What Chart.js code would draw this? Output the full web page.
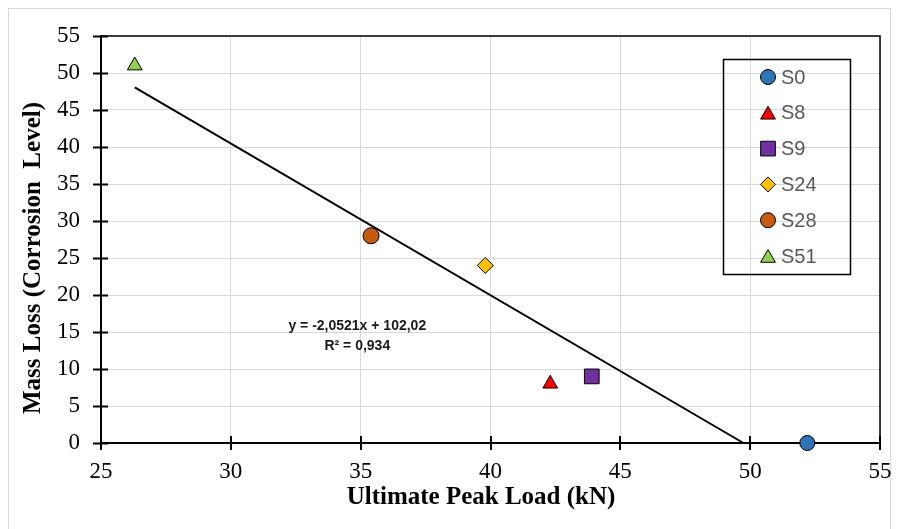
<!DOCTYPE html>
<html lang="en">
<head>
  <meta charset="UTF-8">
  <title>Mass Loss vs Ultimate Peak Load</title>
  <script src="https://cdn.jsdelivr.net/npm/chart.js"></script>
  <style>
    body { margin: 0; background: #ffffff; }
    canvas { display: block; }
  </style>
</head>
<body>
  <canvas id="massLossChart" width="900" height="529"></canvas>

  <script>
    // Specimens
    const specimenNames = ['S0', 'S8', 'S9', 'S24', 'S28', 'S51'];
    const peakLoad = [52.2, 42.3, 43.9, 39.8, 35.4, 26.3];   // kN
    const massLoss = [0, 8, 9, 24, 28, 51];                 // %

    // marker look per specimen
    const markerColors = ['#2E75B6', '#FF0000', '#7030A0', '#FFC000', '#C55A11', '#92D050'];
    const markerShapes = ['circle', 'triangle', 'rect', 'rectRot', 'circle', 'triangle'];
    const markerRadius = [7.5, 8.5, 10.4, 8, 8, 8.5];

    // linear trend line end points (as drawn)
    const trendX = [26.3, 49.74];
    const trendY = [48.05, 0];
    const trendLabel = ['y = -2,0521x + 102,02', 'R\u00B2 = 0,934'];

    const xTicks = [25, 30, 35, 40, 45, 50, 55];
    const yTicks = [0, 5, 10, 15, 20, 25, 30, 35, 40, 45, 50, 55];
    const xTitle = 'Ultimate Peak Load (kN)';
    const yTitle = 'Mass Loss (Corrosion  Level)';

    const serif = "'Liberation Serif', 'Times New Roman', serif";

    const datasets = specimenNames.map((name, i) => ({
      label: name,
      data: [{ x: peakLoad[i], y: massLoss[i] }],
      pointStyle: markerShapes[i],
      pointRadius: markerRadius[i],
      pointBackgroundColor: markerColors[i],
      pointBorderColor: '#000000',
      pointBorderWidth: 1,
      clip: false
    }));

    datasets.unshift({
      label: 'Linear',
      data: trendX.map((x, i) => ({ x: x, y: trendY[i] })),
      showLine: true,
      borderColor: '#000000',
      borderWidth: 2,
      pointRadius: 0,
      clip: false
    });

    // white page + thin grey frame round the whole figure
    const framePlugin = {
      id: 'frame',
      beforeDraw(chart) {
        const ctx = chart.ctx;
        ctx.save();
        ctx.fillStyle = '#ffffff';
        ctx.fillRect(0, 0, chart.width, chart.height);
        ctx.strokeStyle = '#d9d9d9';
        ctx.lineWidth = 1;
        ctx.strokeRect(8.5, 8.5, 882, 540);
        ctx.restore();
      }
    };

    // black top/right border and tick marks crossing the axes (Excel style)
    const axesPlugin = {
      id: 'excelAxes',
      beforeDatasetsDraw(chart) {
        const { ctx, chartArea: a, scales: { x, y } } = chart;
        ctx.save();
        ctx.strokeStyle = '#000000';
        ctx.lineWidth = 1.5;
        ctx.beginPath();
        ctx.moveTo(a.left, a.top);
        ctx.lineTo(a.right, a.top);
        ctx.lineTo(a.right, a.bottom);
        ctx.stroke();

        ctx.lineWidth = 2;
        ctx.beginPath();
        yTicks.forEach(v => {
          const py = Math.round(y.getPixelForValue(v)) + 0.5;
          ctx.moveTo(a.left - 8, py);
          ctx.lineTo(a.left + 7, py);
        });
        xTicks.forEach(v => {
          const px = Math.round(x.getPixelForValue(v));
          ctx.moveTo(px, a.bottom - 7);
          ctx.lineTo(px, a.bottom + 7);
        });
        ctx.stroke();

        // axis titles (Excel places them a little off the axis centre)
        ctx.fillStyle = '#000000';
        ctx.font = 'bold 25px ' + serif;
        ctx.textAlign = 'center';
        ctx.textBaseline = 'middle';
        ctx.fillText(xTitle, 481, 498);
        ctx.translate(34, 258);
        ctx.rotate(-Math.PI / 2);
        ctx.fillText(yTitle, 0, 0);
        ctx.restore();
      }
    };

    function drawMarker(ctx, shape, r, cx, cy) {
      ctx.beginPath();
      if (shape === 'circle') {
        ctx.arc(cx, cy, r, 0, Math.PI * 2);
      } else if (shape === 'triangle') {
        ctx.moveTo(cx, cy - r);
        ctx.lineTo(cx + r * 0.866, cy + r * 0.5);
        ctx.lineTo(cx - r * 0.866, cy + r * 0.5);
        ctx.closePath();
      } else if (shape === 'rect') {
        const s = r * Math.SQRT1_2;
        ctx.rect(cx - s, cy - s, s * 2, s * 2);
      } else {
        ctx.moveTo(cx - r, cy);
        ctx.lineTo(cx, cy - r);
        ctx.lineTo(cx + r, cy);
        ctx.lineTo(cx, cy + r);
        ctx.closePath();
      }
      ctx.fill();
      ctx.stroke();
    }

    // legend box inside the plot + trend line equation
    const overlayPlugin = {
      id: 'overlay',
      afterDraw(chart) {
        const { ctx, scales: { x, y } } = chart;
        ctx.save();

        // legend
        ctx.strokeStyle = '#000000';
        ctx.lineWidth = 1.5;
        ctx.strokeRect(723.5, 59.5, 127, 215);
        ctx.font = "20px 'Liberation Sans', Arial, sans-serif";
        ctx.textBaseline = 'middle';
        ctx.textAlign = 'left';
        specimenNames.forEach((name, i) => {
          const cy = 77 + i * 35.8;
          ctx.fillStyle = markerColors[i];
          ctx.strokeStyle = '#000000';
          ctx.lineWidth = 1;
          const r = markerShapes[i] === 'rect' ? 10.4 : (markerShapes[i] === 'triangle' ? 8.5 : 7.5);
          drawMarker(ctx, markerShapes[i], r, 768, markerShapes[i] === 'triangle' ? cy + 2 : cy);
          ctx.fillStyle = '#595959';
          ctx.fillText(name, 781, cy + 1);
        });

        // equation
        ctx.fillStyle = '#1a1a1a';
        ctx.font = "bold 14px 'Liberation Sans', Arial, sans-serif";
        ctx.textAlign = 'center';
        const ex = x.getPixelForValue(34.87);
        ctx.fillText(trendLabel[0], ex, y.getPixelForValue(15.8));
        ctx.fillText(trendLabel[1], ex, y.getPixelForValue(13.1));
        ctx.restore();
      }
    };

    new Chart(document.getElementById('massLossChart').getContext('2d'), {
      type: 'scatter',
      data: { datasets: datasets },
      plugins: [framePlugin, axesPlugin, overlayPlugin],
      options: {
        responsive: false,
        animation: false,
        layout: { padding: { top: 36, right: 20, left: 0, bottom: 0 } },
        plugins: {
          legend: { display: false },
          tooltip: { enabled: false }
        },
        scales: {
          x: {
            type: 'linear',
            min: 25,
            max: 55,
            afterFit(scale) {
              scale.height = 86;
              scale.paddingLeft = 0;
              scale.paddingRight = 0;
            },
            afterBuildTicks(scale) { scale.ticks = xTicks.map(v => ({ value: v })); },
            grid: { color: '#d9d9d9', lineWidth: 1, drawTicks: false },
            border: { color: '#000000', width: 2 },
            ticks: {
              padding: 15,
              color: '#000000',
              font: { family: serif, size: 23 }
            }
          },
          y: {
            type: 'linear',
            min: 0,
            max: 55,
            afterFit(scale) {
              scale.width = 101;
              scale.paddingTop = 0;
              scale.paddingBottom = 0;
            },
            afterBuildTicks(scale) { scale.ticks = yTicks.map(v => ({ value: v })); },
            grid: { color: '#d9d9d9', lineWidth: 1, drawTicks: false },
            border: { color: '#000000', width: 2 },
            ticks: {
              padding: 21,
              color: '#000000',
              font: { family: serif, size: 23 }
            }
          }
        }
      }
    });
  </script>
</body>
</html>
